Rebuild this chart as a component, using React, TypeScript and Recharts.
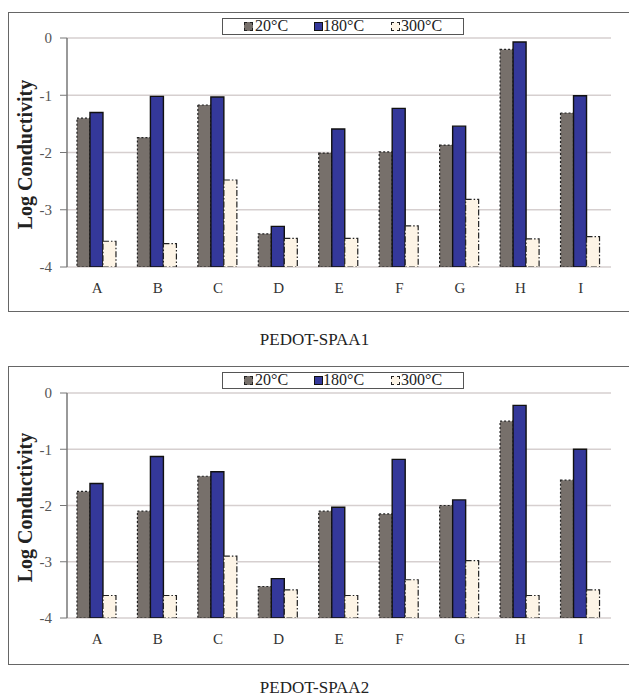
import React from 'react';
import { BarChart, Bar, XAxis, YAxis, CartesianGrid } from 'recharts';

const categories = ['A', 'B', 'C', 'D', 'E', 'F', 'G', 'H', 'I'];
const seriesNames = ['20°C', '180°C', '300°C'];
const spaa1_20 = [-1.4, -1.74, -1.17, -3.42, -2.01, -1.99, -1.87, -0.2, -1.31];
const spaa1_180 = [-1.3, -1.02, -1.03, -3.29, -1.59, -1.23, -1.54, -0.07, -1.01];
const spaa1_300 = [-3.55, -3.59, -2.48, -3.5, -3.5, -3.28, -2.82, -3.51, -3.47];
const spaa2_20 = [-1.75, -2.1, -1.48, -3.44, -2.1, -2.15, -2.0, -0.5, -1.55];
const spaa2_180 = [-1.61, -1.13, -1.4, -3.3, -2.03, -1.18, -1.9, -0.22, -1.0];
const spaa2_300 = [-3.6, -3.6, -2.9, -3.5, -3.6, -3.32, -2.98, -3.6, -3.5];
const yTicks = [-4, -3, -2, -1, 0];
const boundaryTicks = [0, 1, 2, 3, 4, 5, 6, 7, 8, 9];
const baseline = -4;
const captions = ['PEDOT-SPAA1', 'PEDOT-SPAA2'];

const FONT = "'Liberation Serif', 'Times New Roman', serif";
const GRAY = '#77706b';
const BLUE = '#34389a';
const CREAM = '#fdf4e6';

function buildRows(a: number[], b: number[], c: number[]) {
  return categories.map((cat, i) => ({ cat, s20: a[i], s180: b[i], s300: c[i] }));
}

function Legend({ top }: { top: number }) {
  const marker = (left: number, bg: string, border: string) => (
    <span
      style={{
        position: 'absolute',
        left,
        top: 3,
        width: 7,
        height: 7,
        background: bg,
        border,
      }}
    />
  );
  const label = (left: number, text: string) => (
    <span style={{ position: 'absolute', left, top: -1, fontSize: 16, lineHeight: '16px', color: '#222' }}>{text}</span>
  );
  return (
    <div
      style={{
        position: 'absolute',
        left: 222,
        top,
        width: 240,
        height: 15,
        border: '1px solid #555',
        background: '#fff',
        fontFamily: FONT,
      }}
    >
      {marker(21, GRAY, '1px dashed #222')}
      {label(32, seriesNames[0])}
      {marker(91, BLUE, '1px solid #111')}
      {label(100, seriesNames[1])}
      {marker(168, CREAM, '1px dashed #222')}
      {label(178, seriesNames[2])}
    </div>
  );
}

function Panel({ rows, top, plotHeight }: { rows: any[]; top: number; plotHeight: number }) {
  const height = 38 + plotHeight + 33;
  return (
    <div style={{ position: 'absolute', left: 0, top, width: 629, height }}>
      <BarChart
        width={629}
        height={height}
        data={rows}
        margin={{ top: 38, right: 18, left: 0, bottom: 0 }}
        barCategoryGap="16.5%"
        barGap={0}
      >
        <CartesianGrid vertical={false} stroke="#d6cfcf" strokeWidth={1.5} />
        <XAxis
          xAxisId={0}
          type="number"
          domain={[0, 9]}
          ticks={boundaryTicks}
          allowDataOverflow
          height={0}
          tick={false}
          tickSize={5}
          tickLine={{ stroke: '#777' }}
          axisLine={{ stroke: '#777', strokeWidth: 1.5 }}
        />
        <XAxis
          xAxisId={1}
          dataKey="cat"
          type="category"
          height={33}
          tickLine={false}
          axisLine={false}
          tickSize={0}
          tickMargin={15}
          tick={{ fill: '#333', fontSize: 15, fontFamily: FONT }}
        />
        <XAxis xAxisId={2} orientation="top" type="number" domain={[0, 9]} height={0} tick={false} tickLine={false} axisLine={{ stroke: '#999' }} />
        <YAxis
          yAxisId={0}
          domain={[baseline, 0]}
          ticks={yTicks}
          width={67}
          tickSize={7}
          tickMargin={8}
          allowDataOverflow
          tick={{ fill: '#555', fontSize: 15, fontFamily: FONT }}
          tickLine={{ stroke: '#777' }}
          axisLine={{ stroke: '#777', strokeWidth: 1.5 }}
          label={{
            content: (props: any) => {
              const vb = props.viewBox || { x: 0, y: 38, height: plotHeight };
              const cx = 25;
              const cy = vb.y + vb.height / 2 + 2;
              return (
                <text
                  x={cx}
                  y={cy}
                  transform={`rotate(-90 ${cx} ${cy})`}
                  textAnchor="middle"
                  dominantBaseline="central"
                  fontFamily={FONT}
                  fontWeight="bold"
                  fontSize={20}
                  fill="#222"
                >
                  Log Conductivity
                </text>
              );
            },
          }}
        />
        <YAxis yAxisId={1} orientation="right" domain={[baseline, 0]} width={0} tick={false} tickLine={false} axisLine={{ stroke: '#999' }} />
        <Bar
          xAxisId={1}
          yAxisId={0}
          name={seriesNames[0]}
          dataKey={(d: any) => [baseline, d.s20]}
          fill={GRAY}
          stroke="#222"
          strokeWidth={1.2}
          strokeDasharray="2 2"
          isAnimationActive={false}
        />
        <Bar
          xAxisId={1}
          yAxisId={0}
          name={seriesNames[1]}
          dataKey={(d: any) => [baseline, d.s180]}
          fill={BLUE}
          stroke="#111"
          strokeWidth={1.4}
          isAnimationActive={false}
        />
        <Bar
          xAxisId={1}
          yAxisId={0}
          name={seriesNames[2]}
          dataKey={(d: any) => [baseline, d.s300]}
          fill={CREAM}
          stroke="#222"
          strokeWidth={1.2}
          strokeDasharray="6 2 1.5 2"
          isAnimationActive={false}
        />
      </BarChart>
    </div>
  );
}

export default function App() {
  const rows1 = buildRows(spaa1_20, spaa1_180, spaa1_300);
  const rows2 = buildRows(spaa2_20, spaa2_180, spaa2_300);
  return (
    <div style={{ position: 'absolute', left: 0, top: 0, width: 629, height: 696, overflow: 'hidden', background: '#fff', fontFamily: FONT }}>
      <div style={{ position: 'absolute', left: 8, top: 12, width: 660, height: 298, border: '1.5px solid #666' }} />
      <div style={{ position: 'absolute', left: 8, top: 366, width: 660, height: 297, border: '1.5px solid #666' }} />
      <Panel rows={rows1} top={0} plotHeight={229} />
      <Panel rows={rows2} top={355} plotHeight={225} />
      <Legend top={18} />
      <Legend top={372} />
      <div style={{ position: 'absolute', left: 0, width: 629, top: 329, textAlign: 'center', fontSize: 17, lineHeight: '22px', color: '#222' }}>
        {captions[0]}
      </div>
      <div style={{ position: 'absolute', left: 0, width: 629, top: 677, textAlign: 'center', fontSize: 17, lineHeight: '22px', color: '#222' }}>
        {captions[1]}
      </div>
    </div>
  );
}
